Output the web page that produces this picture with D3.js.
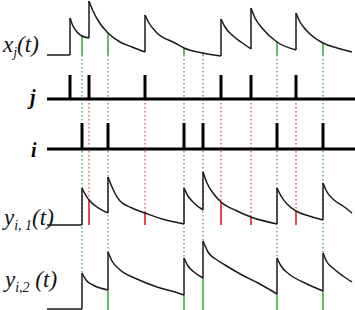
<!DOCTYPE html>
<meta charset="utf-8">
<script src="https://d3js.org/d3.v7.min.js"></script>
<style>
  body { margin: 0; background: #fff; }
  text { font-family: "Liberation Serif", "DejaVu Serif", serif; font-style: italic; }
</style>
<body>
<div id="chart"></div>
<script>
// spike times of neuron j and neuron i (same time units for every row)
var jSpikes = [23, 42, 98, 174, 204, 249];
var iSpikes = [35, 61, 137, 156, 230, 276];
var tMax = 308;

// traces, split into segments between jumps: [time, value]
var xj = [
  [[0, 0], [23, 0]],
  [[23, 37], [26, 29], [30, 23], [35, 19], [42, 17]],
  [[42, 54], [46, 44], [52, 33], [61, 22], [73, 13], [85, 8], [98, 3]],
  [[98, 40], [102, 32], [110, 22], [128, 12], [137, 7], [156, 2], [174, -1]],
  [[174, 36], [178, 28], [185, 20], [194, 13], [204, 6]],
  [[204, 47], [208, 37], [215, 27], [230, 13], [249, 5]],
  [[249, 42], [253, 33], [260, 24], [276, 12], [290, 7], [305, 3]]
];
var yi1 = [
  [[0, 0], [35, 0]],
  [[35, 37], [38, 31], [42, 25], [50, 18], [61, 12]],
  [[61, 48], [65, 38], [73, 24], [85, 17], [98, 12], [115, 6], [128, 3], [137, 1]],
  [[137, 37], [141, 29], [147, 22], [156, 15]],
  [[156, 53], [160, 42], [166, 32], [174, 23], [190, 14], [204, 8], [230, 1]],
  [[230, 37], [234, 29], [240, 21], [249, 14], [262, 9], [276, 5]],
  [[276, 42], [280, 33], [287, 25], [296, 19], [305, 12]]
];
var yi2 = [
  [[0, 0], [35, 0]],
  [[35, 36], [39, 29], [46, 24], [61, 19]],
  [[61, 57], [65, 48], [72, 40], [90, 30], [110, 22], [128, 17], [137, 14]],
  [[137, 51], [141, 43], [147, 37], [156, 31]],
  [[156, 68], [161, 57], [170, 49], [178, 44], [195, 34], [211, 26], [230, 15]],
  [[230, 51], [234, 43], [242, 35], [258, 26], [276, 18]],
  [[276, 56], [280, 47], [287, 40], [296, 33], [305, 27]]
];

var width = 355, height = 310;
var green = "#3d9f3d", red = "#e2383c";

var svg = d3.select("#chart")
  .append("svg")
    .attr("width", width)
    .attr("height", height);

var x = d3.scaleLinear().domain([0, tMax]).range([47, 355]);

// one y scale per row (value 0 sits on the row's baseline)
function rowScale(base) {
  return d3.scaleLinear().domain([0, 60]).range([base, base - 60]);
}
var yX = rowScale(55),
    yJ = rowScale(99),
    yI = rowScale(149),
    y1 = rowScale(225),
    y2 = rowScale(309);

function valueAt(segs, t, before) {
  // value on the trace at time t; before=true takes the end of the previous segment
  for (var k = segs.length - 1; k >= 0; k--) {
    var s = segs[k], t0 = s[0][0], t1 = s[s.length - 1][0];
    if (before ? (t > t0 && t <= t1) : (t >= t0 && t <= t1)) {
      for (var p = 0; p < s.length; p++) if (s[p][0] === t) return s[p][1];
      var b = d3.bisector(function(d) { return d[0]; }).left(s, t);
      var a0 = s[b - 1], a1 = s[b];
      return a0[1] + (a1[1] - a0[1]) * (t - a0[0]) / (a1[0] - a0[0]);
    }
  }
  return 0;
}
function peakAt(segs, t) {
  var s = segs.find(function(d) { return d[0][0] === t; });
  return s ? s[0][1] : 0;
}

// dotted guides: green down from x_j to y_i,2 at every spike of i
svg.append("g").selectAll("line")
  .data(iSpikes)
  .enter().append("line")
    .attr("x1", function(d) { return x(d); })
    .attr("x2", function(d) { return x(d); })
    .attr("y1", yX(0))
    .attr("y2", function(d) { return y2(peakAt(yi2, d)); })
    .attr("stroke", green)
    .attr("stroke-width", 1.2)
    .attr("stroke-dasharray", "1.5,2.5");

// dotted guides: red down from j to y_i,1 at each spike of j
svg.append("g").selectAll("line")
  .data(jSpikes.filter(function(d) { return valueAt(yi1, d) > 0; }))
  .enter().append("line")
    .attr("x1", function(d) { return x(d); })
    .attr("x2", function(d) { return x(d); })
    .attr("y1", yJ(0))
    .attr("y2", function(d) { return y1(valueAt(yi1, d)); })
    .attr("stroke", red)
    .attr("stroke-width", 1.2)
    .attr("stroke-dasharray", "1.5,2.5");

// solid markers: value of x_j read at spikes of i
svg.append("g").selectAll("line")
  .data(iSpikes)
  .enter().append("line")
    .attr("x1", function(d) { return x(d); })
    .attr("x2", function(d) { return x(d); })
    .attr("y1", yX(0))
    .attr("y2", function(d) { return yX(valueAt(xj, d)); })
    .attr("stroke", green)
    .attr("stroke-width", 1.5);

// red markers on y_i,1 at spikes of j
svg.append("g").selectAll("line")
  .data(jSpikes.filter(function(d) { return valueAt(yi1, d) > 0; }))
  .enter().append("line")
    .attr("x1", function(d) { return x(d); })
    .attr("x2", function(d) { return x(d); })
    .attr("y1", y1(0))
    .attr("y2", function(d) { return y1(valueAt(yi1, d)); })
    .attr("stroke", red)
    .attr("stroke-width", 1.8);

// green markers on y_i,2: value just before each jump
svg.append("g").selectAll("line")
  .data(iSpikes.filter(function(d) { return valueAt(yi2, d, true) > 0; }))
  .enter().append("line")
    .attr("x1", function(d) { return x(d); })
    .attr("x2", function(d) { return x(d); })
    .attr("y1", y2(0) + 1)
    .attr("y2", function(d) { return y2(valueAt(yi2, d, true)); })
    .attr("stroke", "#4fb84f")
    .attr("stroke-width", 1.8);

// traces
function drawTrace(segs, y) {
  var line = d3.line()
    .x(function(d) { return x(d[0]); })
    .y(function(d) { return y(d[1]); })
    .curve(d3.curveMonotoneX);
  var g = svg.append("g");
  g.selectAll("path")
    .data(segs)
    .enter().append("path")
      .attr("d", line)
      .attr("fill", "none")
      .attr("stroke", "#1a1a1a")
      .attr("stroke-width", 1.5);
  // vertical jumps
  g.selectAll("line")
    .data(d3.pairs(segs))
    .enter().append("line")
      .attr("x1", function(d) { return x(d[1][0][0]); })
      .attr("x2", function(d) { return x(d[1][0][0]); })
      .attr("y1", function(d) { return y(d[0][d[0].length - 1][1]); })
      .attr("y2", function(d) { return y(d[1][0][1]); })
      .attr("stroke", "#1a1a1a")
      .attr("stroke-width", 1.5);
}
drawTrace(xj, yX);
drawTrace(yi1, y1);
drawTrace(yi2, y2);

// spike trains
function drawTrain(spikes, y, h) {
  var g = svg.append("g");
  g.append("line")
    .attr("x1", x(0)).attr("x2", x(tMax))
    .attr("y1", y(0)).attr("y2", y(0))
    .attr("stroke", "#000")
    .attr("stroke-width", 3.2);
  g.selectAll(".spike")
    .data(spikes)
    .enter().append("line")
      .attr("class", "spike")
      .attr("x1", function(d) { return x(d); })
      .attr("x2", function(d) { return x(d); })
      .attr("y1", y(0))
      .attr("y2", y(h))
      .attr("stroke", "#000")
      .attr("stroke-width", 3);
}
drawTrain(jSpikes, yJ, 24);
drawTrain(iSpikes, yI, 26);

// labels
function label(xp, yp, main, sub, rest, size) {
  var t = svg.append("text")
    .attr("x", xp).attr("y", yp)
    .attr("font-size", size)
    .attr("fill", "#111");
  t.append("tspan").text(main);
  if (sub) {
    t.append("tspan").attr("dy", 5).attr("font-size", Math.round(size * 0.6)).text(sub);
    t.append("tspan").attr("dy", -5).text(rest);
  }
}
label(3, 52, "x", "j", "(t)", 23);
label(4, 225, "y", "i, 1", "(t)", 23);
label(5, 287, "y", "i,2", " (t)", 23);

svg.append("text")
  .attr("x", 30).attr("y", 104)
  .attr("font-weight", "bold")
  .attr("font-size", 20)
  .text("j");
svg.append("text")
  .attr("x", 31).attr("y", 157)
  .attr("font-weight", "bold")
  .attr("font-size", 20)
  .text("i");
</script>
</body>
